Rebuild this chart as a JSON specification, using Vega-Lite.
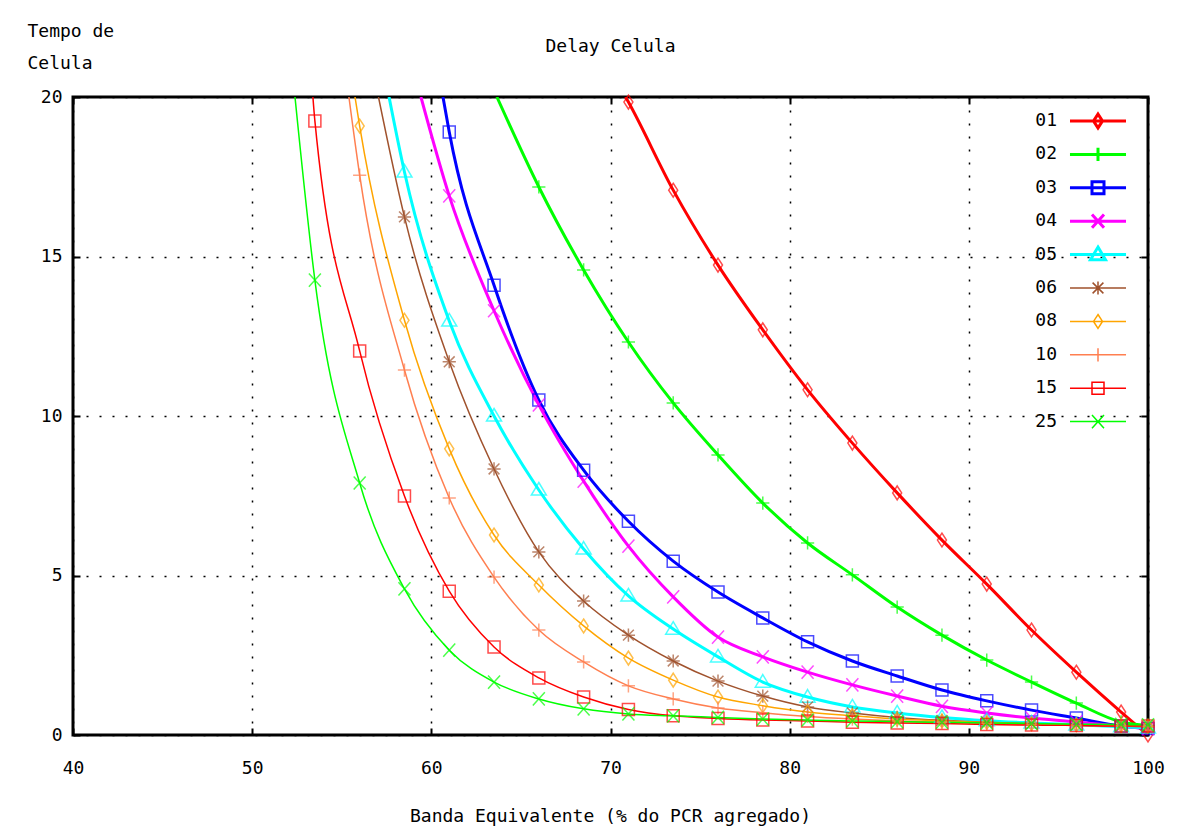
{
  "$schema": "https://vega.github.io/schema/vega-lite/v6.json",
  "autosize": "none",
  "width": 1075,
  "height": 638,
  "padding": {"left": 73, "top": 97, "right": 37, "bottom": 95},
  "background": "white",
  "title": {"text": "Delay Celula", "anchor": "middle", "offset": 0, "dy": 34},
  "data": {"values": [
    {"s":"01","x":70.84,"y":20,"edge":true},{"s":"01","x":71.0,"y":19.84},{"s":"01","x":73.5,"y":17.08},{"s":"01","x":76.0,"y":14.73},{"s":"01","x":78.5,"y":12.70},{"s":"01","x":81.0,"y":10.82},{"s":"01","x":83.5,"y":9.15},{"s":"01","x":86.0,"y":7.59},{"s":"01","x":88.5,"y":6.11},{"s":"01","x":91.0,"y":4.73},{"s":"01","x":93.5,"y":3.29},{"s":"01","x":96.0,"y":1.97},{"s":"01","x":98.5,"y":0.72},{"s":"01","x":100,"y":0.0},
    {"s":"02","x":63.66,"y":20,"edge":true},{"s":"02","x":66.0,"y":17.18},{"s":"02","x":68.5,"y":14.58},{"s":"02","x":71.0,"y":12.32},{"s":"02","x":73.5,"y":10.41},{"s":"02","x":76.0,"y":8.78},{"s":"02","x":78.5,"y":7.27},{"s":"02","x":81.0,"y":6.02},{"s":"02","x":83.5,"y":5.02},{"s":"02","x":86.0,"y":4.01},{"s":"02","x":88.5,"y":3.13},{"s":"02","x":91.0,"y":2.35},{"s":"02","x":93.5,"y":1.66},{"s":"02","x":96.0,"y":1.00},{"s":"02","x":98.5,"y":0.41},{"s":"02","x":100,"y":0.3},
    {"s":"03","x":60.65,"y":20,"edge":true},{"s":"03","x":61.0,"y":18.9},{"s":"03","x":63.5,"y":14.1},{"s":"03","x":66.0,"y":10.5},{"s":"03","x":68.5,"y":8.3},{"s":"03","x":71.0,"y":6.7},{"s":"03","x":73.5,"y":5.45},{"s":"03","x":76.0,"y":4.48},{"s":"03","x":78.5,"y":3.67},{"s":"03","x":81.0,"y":2.92},{"s":"03","x":83.5,"y":2.32},{"s":"03","x":86.0,"y":1.85},{"s":"03","x":88.5,"y":1.41},{"s":"03","x":91.0,"y":1.07},{"s":"03","x":93.5,"y":0.78},{"s":"03","x":96.0,"y":0.53},{"s":"03","x":98.5,"y":0.28},{"s":"03","x":100,"y":0.2},
    {"s":"04","x":59.42,"y":20,"edge":true},{"s":"04","x":61.0,"y":16.9},{"s":"04","x":63.5,"y":13.3},{"s":"04","x":66.0,"y":10.35},{"s":"04","x":68.5,"y":7.96},{"s":"04","x":71.0,"y":5.92},{"s":"04","x":73.5,"y":4.33},{"s":"04","x":76.0,"y":3.07},{"s":"04","x":78.5,"y":2.45},{"s":"04","x":81.0,"y":1.97},{"s":"04","x":83.5,"y":1.57},{"s":"04","x":86.0,"y":1.22},{"s":"04","x":88.5,"y":0.9},{"s":"04","x":91.0,"y":0.69},{"s":"04","x":93.5,"y":0.53},{"s":"04","x":96.0,"y":0.41},{"s":"04","x":98.5,"y":0.27},{"s":"04","x":100,"y":0.2},
    {"s":"05","x":57.64,"y":20,"edge":true},{"s":"05","x":58.5,"y":17.65},{"s":"05","x":61.0,"y":12.98},{"s":"05","x":63.5,"y":10.0},{"s":"05","x":66.0,"y":7.68},{"s":"05","x":68.5,"y":5.83},{"s":"05","x":71.0,"y":4.36},{"s":"05","x":73.5,"y":3.32},{"s":"05","x":76.0,"y":2.45},{"s":"05","x":78.5,"y":1.66},{"s":"05","x":81.0,"y":1.19},{"s":"05","x":83.5,"y":0.88},{"s":"05","x":86.0,"y":0.69},{"s":"05","x":88.5,"y":0.55},{"s":"05","x":91.0,"y":0.45},{"s":"05","x":93.5,"y":0.38},{"s":"05","x":96.0,"y":0.32},{"s":"05","x":98.5,"y":0.26},{"s":"05","x":100,"y":0.22},
    {"s":"06","x":57.05,"y":20,"edge":true},{"s":"06","x":58.5,"y":16.24},{"s":"06","x":61.0,"y":11.7},{"s":"06","x":63.5,"y":8.34},{"s":"06","x":66.0,"y":5.74},{"s":"06","x":68.5,"y":4.2},{"s":"06","x":71.0,"y":3.13},{"s":"06","x":73.5,"y":2.32},{"s":"06","x":76.0,"y":1.69},{"s":"06","x":78.5,"y":1.22},{"s":"06","x":81.0,"y":0.88},{"s":"06","x":83.5,"y":0.69},{"s":"06","x":86.0,"y":0.55},{"s":"06","x":88.5,"y":0.46},{"s":"06","x":91.0,"y":0.4},{"s":"06","x":93.5,"y":0.35},{"s":"06","x":96.0,"y":0.31},{"s":"06","x":98.5,"y":0.28},{"s":"06","x":100,"y":0.26},
    {"s":"08","x":55.74,"y":20,"edge":true},{"s":"08","x":56.0,"y":19.09},{"s":"08","x":58.5,"y":13.0},{"s":"08","x":61.0,"y":8.97},{"s":"08","x":63.5,"y":6.27},{"s":"08","x":66.0,"y":4.7},{"s":"08","x":68.5,"y":3.42},{"s":"08","x":71.0,"y":2.41},{"s":"08","x":73.5,"y":1.72},{"s":"08","x":76.0,"y":1.19},{"s":"08","x":78.5,"y":0.92},{"s":"08","x":81.0,"y":0.72},{"s":"08","x":83.5,"y":0.6},{"s":"08","x":86.0,"y":0.5},{"s":"08","x":88.5,"y":0.44},{"s":"08","x":91.0,"y":0.39},{"s":"08","x":93.5,"y":0.35},{"s":"08","x":96.0,"y":0.32},{"s":"08","x":98.5,"y":0.3},{"s":"08","x":100,"y":0.28},
    {"s":"10","x":55.40,"y":20,"edge":true},{"s":"10","x":56.0,"y":17.55},{"s":"10","x":58.5,"y":11.44},{"s":"10","x":61.0,"y":7.43},{"s":"10","x":63.5,"y":4.95},{"s":"10","x":66.0,"y":3.29},{"s":"10","x":68.5,"y":2.29},{"s":"10","x":71.0,"y":1.54},{"s":"10","x":73.5,"y":1.13},{"s":"10","x":76.0,"y":0.85},{"s":"10","x":78.5,"y":0.7},{"s":"10","x":81.0,"y":0.58},{"s":"10","x":83.5,"y":0.5},{"s":"10","x":86.0,"y":0.44},{"s":"10","x":88.5,"y":0.4},{"s":"10","x":91.0,"y":0.36},{"s":"10","x":93.5,"y":0.33},{"s":"10","x":96.0,"y":0.3},{"s":"10","x":98.5,"y":0.28},{"s":"10","x":100,"y":0.27},
    {"s":"15","x":53.39,"y":20,"edge":true},{"s":"15","x":53.5,"y":19.25},{"s":"15","x":56.0,"y":12.04},{"s":"15","x":58.5,"y":7.49},{"s":"15","x":61.0,"y":4.51},{"s":"15","x":63.5,"y":2.76},{"s":"15","x":66.0,"y":1.79},{"s":"15","x":68.5,"y":1.19},{"s":"15","x":71.0,"y":0.8},{"s":"15","x":73.5,"y":0.6},{"s":"15","x":76.0,"y":0.52},{"s":"15","x":78.5,"y":0.47},{"s":"15","x":81.0,"y":0.44},{"s":"15","x":83.5,"y":0.4},{"s":"15","x":86.0,"y":0.38},{"s":"15","x":88.5,"y":0.36},{"s":"15","x":91.0,"y":0.33},{"s":"15","x":93.5,"y":0.31},{"s":"15","x":96.0,"y":0.3},{"s":"15","x":98.5,"y":0.28},{"s":"15","x":100,"y":0.28},
    {"s":"25","x":52.39,"y":20,"edge":true},{"s":"25","x":53.5,"y":14.26},{"s":"25","x":56.0,"y":7.9},{"s":"25","x":58.5,"y":4.58},{"s":"25","x":61.0,"y":2.66},{"s":"25","x":63.5,"y":1.66},{"s":"25","x":66.0,"y":1.13},{"s":"25","x":68.5,"y":0.82},{"s":"25","x":71.0,"y":0.66},{"s":"25","x":73.5,"y":0.6},{"s":"25","x":76.0,"y":0.55},{"s":"25","x":78.5,"y":0.5},{"s":"25","x":81.0,"y":0.47},{"s":"25","x":83.5,"y":0.44},{"s":"25","x":86.0,"y":0.42},{"s":"25","x":88.5,"y":0.4},{"s":"25","x":91.0,"y":0.38},{"s":"25","x":93.5,"y":0.36},{"s":"25","x":96.0,"y":0.34},{"s":"25","x":98.5,"y":0.33},{"s":"25","x":100,"y":0.32}
  ]},
  "layer": [
    {
      "mark": {"type": "line", "interpolate": "monotone", "clip": true},
      "encoding": {
        "x": {"field": "x", "type": "quantitative", "scale": {"domain": [40, 100], "nice": false, "zero": false},
          "axis": {"orient": "bottom", "values": [40, 50, 60, 70, 80, 90, 100], "grid": true, "labelFlush": false, "title": "Banda Equivalente (% do PCR agregado)", "titleX": 537, "titleY": 86, "titleBaseline": "alphabetic", "labelPadding": 31, "labelBaseline": "top"}},
        "y": {"field": "y", "type": "quantitative", "scale": {"domain": [0, 20], "nice": false},
          "axis": {"orient": "left", "values": [0, 5, 10, 15, 20], "grid": true, "labelFlush": false, "title": ["Tempo de", "Celula"], "titleAngle": 0, "titleAlign": "left", "titleBaseline": "alphabetic", "titleX": -46, "titleY": -61, "titleLineHeight": 32, "labelPadding": 18}},
        "color": {"field": "s", "type": "nominal", "legend": null,
          "scale": {"domain": ["01","02","03","04","05","06","08","10","15","25"], "range": ["#ff0000","#00ff00","#0000ff","#ff00ff","#00ffff","#a0522d","#ffa500","#ff7f50","#ff0000","#00ff00"]}},
        "strokeWidth": {"field": "s", "type": "ordinal", "legend": null,
          "scale": {"type": "ordinal", "domain": ["01","02","03","04","05","06","08","10","15","25"], "range": [3,3,3,3,3,1.5,1.5,1.5,1.5,1.5]}}
      }
    },
    {
      "transform": [{"filter": "!datum.edge"}],
      "mark": {"type": "point", "filled": false, "strokeWidth": 1.5, "size": 144, "clip": false},
      "encoding": {
        "x": {"field": "x", "type": "quantitative", "axis": {"orient": "top", "values": [40, 50, 60, 70, 80, 90, 100], "labels": false, "grid": false, "title": null}},
        "y": {"field": "y", "type": "quantitative", "axis": {"orient": "right", "values": [0, 5, 10, 15, 20], "labels": false, "grid": false, "title": null}},
        "color": {"field": "s", "type": "nominal", "legend": null},
        "shape": {"field": "s", "type": "nominal", "legend": null,
          "scale": {"domain": ["01","02","03","04","05","06","08","10","15","25"], "range": [
            "M0,-1.15L0.75,0L0,1.15L-0.75,0Z",
            "M-1.1,0H1.1M0,-1.1V1.1",
            "M-1,-1H1V1H-1Z",
            "M-1,-1.1L1,1.1M-1,1.1L1,-1.1",
            "M0,-1.25L1.25,0.85L-1.25,0.85Z",
            "M-1.1,0H1.1M0,-1.1V1.1M-0.9,-0.9L0.9,0.9M-0.9,0.9L0.9,-0.9",
            "M0,-1.15L0.75,0L0,1.15L-0.75,0Z",
            "M-1.1,0H1.1M0,-1.1V1.1",
            "M-1,-1H1V1H-1Z",
            "M-1,-1.1L1,1.1M-1,1.1L1,-1.1"]}}
      }
    },
    {
      "transform": [{"filter": "!datum.edge"}],
      "mark": {"type": "point", "filled": false, "opacity": 0, "size": 144},
      "encoding": {
        "x": {"field": "x", "type": "quantitative", "axis": null},
        "y": {"field": "y", "type": "quantitative", "axis": null},
        "color": {"field": "s", "type": "nominal",
          "legend": {"title": null, "orient": "none", "legendX": 1016, "legendY": 15, "labelAlign": "right", "labelOffset": -50, "gridAlign": "all", "rowPadding": 6.4, "padding": 0, "symbolOpacity": 1, "symbolSize": 144}},
        "strokeWidth": {"field": "s", "type": "ordinal",
          "scale": {"type": "ordinal", "domain": ["01","02","03","04","05","06","08","10","15","25"], "range": [3,3,3,3,3,1.5,1.5,1.5,1.5,1.5]}},
        "shape": {"field": "s", "type": "nominal",
          "scale": {"domain": ["01","02","03","04","05","06","08","10","15","25"], "range": [
            "M-4.67,0H4.67M0,-1.15L0.75,0L0,1.15L-0.75,0Z",
            "M-4.67,0H4.67M-1.1,0H1.1M0,-1.1V1.1",
            "M-4.67,0H4.67M-1,-1H1V1H-1Z",
            "M-4.67,0H4.67M-1,-1.1L1,1.1M-1,1.1L1,-1.1",
            "M-4.67,0H4.67M0,-1.25L1.25,0.85L-1.25,0.85Z",
            "M-4.67,0H4.67M-1.1,0H1.1M0,-1.1V1.1M-0.9,-0.9L0.9,0.9M-0.9,0.9L0.9,-0.9",
            "M-4.67,0H4.67M0,-1.15L0.75,0L0,1.15L-0.75,0Z",
            "M-4.67,0H4.67M-1.1,0H1.1M0,-1.1V1.1",
            "M-4.67,0H4.67M-1,-1H1V1H-1Z",
            "M-4.67,0H4.67M-1,-1.1L1,1.1M-1,1.1L1,-1.1"]}}
      }
    }
  ],
  "resolve": {
    "scale": {"shape": "independent", "strokeWidth": "independent"},
    "legend": {"color": "independent", "shape": "independent", "strokeWidth": "independent"},
    "axis": {"x": "independent", "y": "independent"}
  },
  "config": {
    "font": "DejaVu Sans Mono",
    "view": {"stroke": "black", "strokeWidth": 3},
    "title": {"font": "DejaVu Sans Mono", "fontSize": 18, "fontWeight": "normal", "color": "black"},
    "axis": {"labelFont": "DejaVu Sans Mono", "labelFontSize": 18, "labelColor": "black", "titleFont": "DejaVu Sans Mono", "titleFontSize": 18, "titleFontWeight": "normal", "titleColor": "black", "tickColor": "black", "tickWidth": 2, "tickSize": -7, "domain": false, "gridColor": "black", "gridDash": [2, 11], "gridWidth": 1.5, "gridOpacity": 1},
    "legend": {"labelFont": "DejaVu Sans Mono", "labelFontSize": 18, "labelColor": "black"}
  }
}
